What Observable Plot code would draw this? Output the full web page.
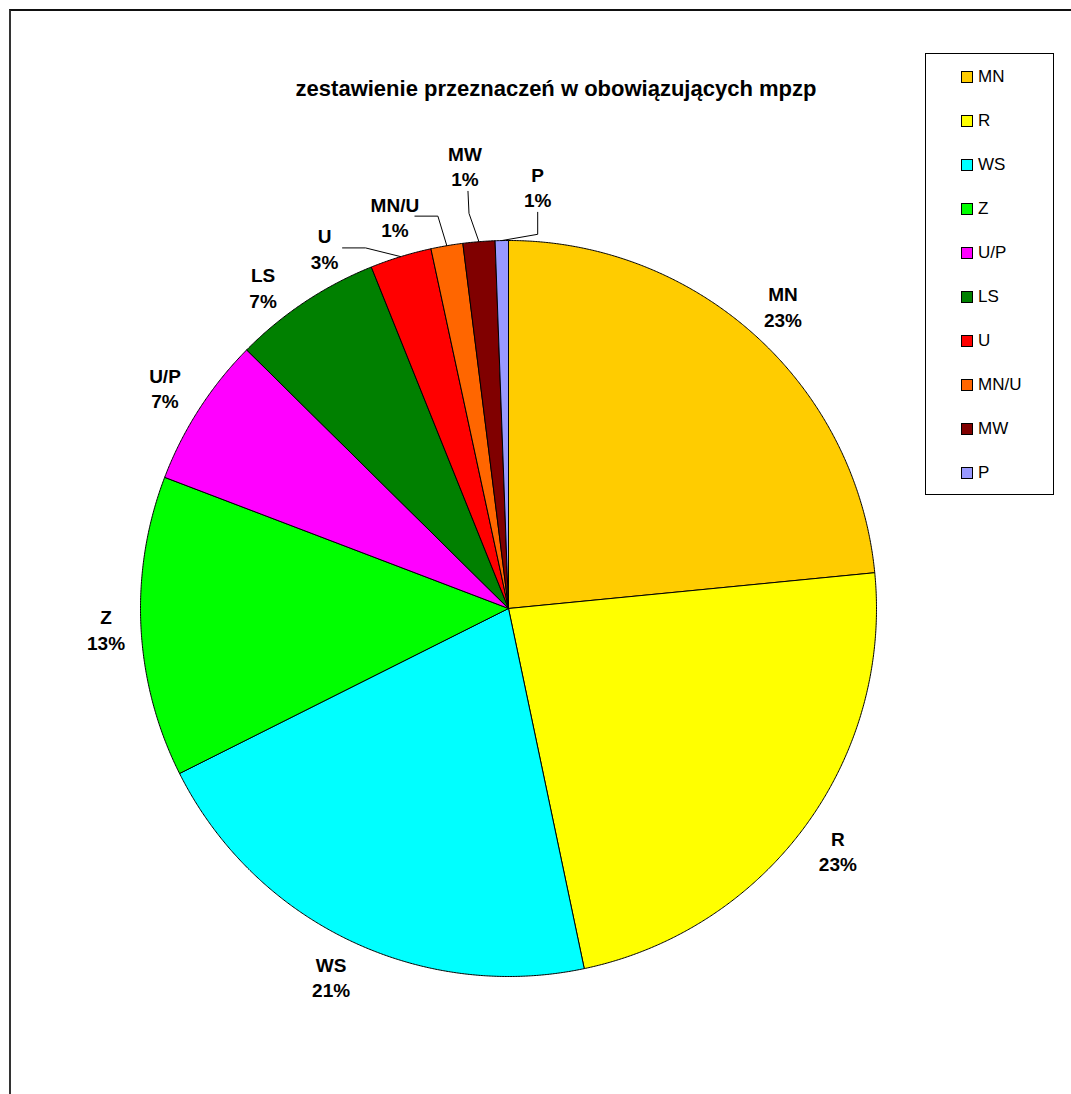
<!DOCTYPE html>
<html>
<head>
<meta charset="utf-8">
<script src="https://cdn.jsdelivr.net/npm/d3@7"></script>
<script src="https://cdn.jsdelivr.net/npm/@observablehq/plot@0.6"></script>
<style>
  html, body { margin: 0; padding: 0; background: #fff; }
  #wrap { position: relative; width: 1071px; height: 1094px; overflow: hidden; font-family: "Liberation Sans", Arial, sans-serif; }
  #frame { position: absolute; left: 9px; top: 9px; width: 1100px; height: 1100px; border-left: 2px solid #333; border-top: 2px solid #111; }
  #title { position: absolute; left: 556px; top: 76px; transform: translateX(-50%); font-weight: bold; font-size: 22px; white-space: nowrap; color: #000; }
  #legend { position: absolute; left: 925px; top: 53px; width: 127px; height: 440px; border: 1px solid #000; background: #fff; }
  .li { position: absolute; left: 35px; font-size: 17px; height: 20px; line-height: 20px; color: #000; }
  .sw { display: inline-block; width: 10px; height: 10px; border: 1px solid #000; margin-right: 5px; vertical-align: -1px; }
  #chart { position: absolute; left: 0; top: 0; }
</style>
</head>
<body>
<div id="wrap">
  <div id="frame"></div>
  <div id="chart"></div>
  <div id="title">zestawienie przeznaczeń w obowiązujących mpzp</div>
  <div id="legend"></div>
</div>
<script>
// ---- data ----
const categories = ["MN", "R", "WS", "Z", "U/P", "LS", "U", "MN/U", "MW", "P"];
const shares = [23.45, 23.25, 20.9, 13.2, 6.6, 6.52, 2.7, 1.4, 1.4, 0.58];
const colors = ["#FFCC00", "#FFFF00", "#00FFFF", "#00FF00", "#FF00FF", "#008000", "#FF0000", "#FF6600", "#800000", "#9999FF"];

// ---- layout ----
const cx = 508, cy = 608, R = 368;
const labelRadius = 1.11;
const labelShift = {"U": -10, "MN/U": -6.5, "MW": -1, "P": 5, "LS": -3.7};   // degrees
const labelRadiusOverride = {"MW": 1.21, "P": 1.15, "Z": 1.095, "LS": 1.1, "U": 1.1};
const leaderKind = {"U": "h", "MN/U": "h", "MW": "v", "P": "v"};

const total = d3.sum(shares);
const pie = d3.pie().sort(null).value(d => d.value);
const rows = categories.map((c, i) => ({name: c, value: shares[i], color: colors[i]}));
const arcs = pie(rows);

const pt = (ang, r) => [r * Math.sin(ang), r * Math.cos(ang)];
const deg = Math.PI / 180;

const sliceMarks = arcs.map(a => {
  const pts = [[0, 0]];
  const n = Math.max(2, Math.ceil((a.endAngle - a.startAngle) / (0.25 * deg)));
  for (let k = 0; k <= n; k++) {
    const t = a.startAngle + (a.endAngle - a.startAngle) * k / n;
    pts.push(pt(t, 1));
  }
  pts.push([0, 0]);
  return Plot.line(pts, {x: d => d[0], y: d => d[1], fill: a.data.color, stroke: "#000", strokeWidth: 1, curve: "linear"});
});

const labels = arcs.map(a => {
  const mid = (a.startAngle + a.endAngle) / 2;
  const ang = mid + (labelShift[a.data.name] || 0) * deg;
  const r = labelRadiusOverride[a.data.name] || labelRadius;
  const [x, y] = pt(ang, r);
  const pct = Math.round(a.data.value / total * 100);
  return {name: a.data.name, x, y, text: a.data.name + "\n" + pct + "%", mid};
});

// leader lines for small slices
const leaders = [];
labels.forEach(l => {
  const kind = leaderKind[l.name];
  if (!kind) return;
  const start = pt(l.mid, 1);
  let end, elbow;
  if (kind === "h") {
    end = [l.x + (l.name === "U" ? 18 : 20) / R, l.y];
    elbow = [end[0] + 23 / R, end[1]];
  } else {
    end = [l.x + (l.name === "MW" ? 3 : 0) / R, l.y - 26 / R];
    elbow = [end[0] + (l.name === "MW" ? 1 : 0) / R, end[1] - 22 / R];
  }
  leaders.push([{x: end[0], y: end[1], k: l.name}, {x: elbow[0], y: elbow[1], k: l.name}, {x: start[0], y: start[1], k: l.name}]);
});

const chart = Plot.plot({
  width: 1071,
  height: 1094,
  margin: 0,
  x: {domain: [-1, 1], range: [cx - R, cx + R]},
  y: {domain: [-1, 1], range: [cy + R, cy - R]},
  axis: null,
  style: {background: "transparent", overflow: "visible"},
  marks: [
    ...sliceMarks,
    Plot.line(leaders.flat(), {x: "x", y: "y", z: "k", stroke: "#000", strokeWidth: 1}),
    Plot.text(labels, {x: "x", y: "y", text: "text", fontSize: 19, fontWeight: "bold", lineHeight: 1.35, fill: "#000", fontFamily: "Liberation Sans, Arial, sans-serif"})
  ]
});
document.getElementById("chart").appendChild(chart);

// legend
const lg = document.getElementById("legend");
categories.forEach((c, i) => {
  const d = document.createElement("div");
  d.className = "li";
  d.style.top = (13 + i * 44) + "px";
  d.innerHTML = `<span class="sw" style="background:${colors[i]}"></span>${c}`;
  lg.appendChild(d);
});
</script>
</body>
</html>
